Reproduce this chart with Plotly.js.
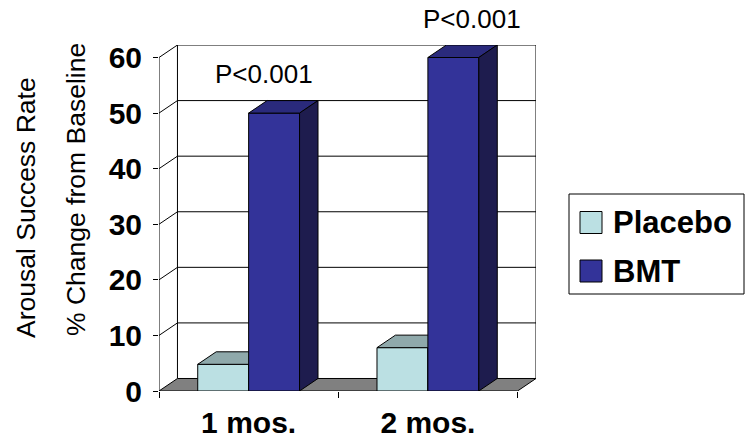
<!DOCTYPE html>
<html><head><meta charset="utf-8">
<script src="https://cdn.plot.ly/plotly-3.0.1.min.js"></script>
<style>html,body{margin:0;padding:0;background:#fff;}#chart{width:746px;height:441px;}</style>
</head><body><div id="chart"></div>
<script>
// ---- data ----
const categories = ['1 mos.', '2 mos.'];
const seriesNames = ['Placebo', 'BMT'];
const placeboValues = [4.8, 7.8];
const bmtValues = [50, 60];
const pValueLabels = ['P<0.001', 'P<0.001'];
const yTickValues = [0, 10, 20, 30, 40, 50, 60];
const yTitleLines = ['Arousal Success Rate', '% Change from Baseline'];

// ---- geometry / style ----
const FONT = 'Arial, "Liberation Sans", sans-serif';
const W = 746, H = 441;
const M = {l:159, r:210, t:45, b:50};
const PW = W - M.l - M.r, PH = H - M.t - M.b;
const X0 = -0.5, X1 = categories.length - 0.5;
const YMAX = yTickValues[yTickValues.length - 1];
const DX = 0.103, DY = 2.25;   // oblique depth offset
const BW = 0.284;              // bar width in category units
const XR = [X0, X1 + DX], YR = [0, YMAX + DY];
const px2paperX = px => (px - M.l) / PW;
const px2paperY = py => (H - M.b - py) / PH;
const d2paperX = x => (x - XR[0]) / (XR[1] - XR[0]);
const d2paperY = y => (y - YR[0]) / (YR[1] - YR[0]);

const colors = {
  Placebo: {front:'#BBE0E3', top:'#8FA9AB', side:'#6E8C8E'},
  BMT: {front:'#333399', top:'#2A2A7C', side:'#1E1C4E'}
};
const values = {Placebo: placeboValues, BMT: bmtValues};
const offsets = {Placebo: -BW, BMT: 0};

const traces = [];
const poly = (xs, ys, fill) => ({
  type:'scatter', mode:'lines', x:[...xs, xs[0]], y:[...ys, ys[0]],
  fill:'toself', fillcolor:fill, line:{color:'#000', width:1},
  hoverinfo:'skip', showlegend:false, cliponaxis:false
});

// walls & gridlines
const gx = [], gy = [];
yTickValues.forEach(t => { if (t > 0) { gx.push(X0, X0 + DX, X1 + DX, null); gy.push(t, t + DY, t + DY, null); } });
gx.push(X0 + DX, X0 + DX, null, X1 + DX, X1 + DX, null, X0, X0, null);
gy.push(DY, YMAX + DY, null, DY, YMAX + DY, null, 0, YMAX, null);
traces.push({type:'scatter', mode:'lines', x:gx, y:gy, line:{color:'#000', width:1},
  hoverinfo:'skip', showlegend:false, cliponaxis:false, connectgaps:false});

// floor
traces.push(poly([X0, X1, X1 + DX, X0 + DX], [0, 0, DY, DY], '#808080'));

// bars
categories.forEach((c, i) => {
  seriesNames.forEach(s => {
    const xl = i + offsets[s], xr = xl + BW, v = values[s][i];
    const col = colors[s];
    traces.push(poly([xl, xr, xr, xl], [0, 0, v, v], col.front));
    traces.push(poly([xl, xr, xr + DX, xl + DX], [v, v, v + DY, v + DY], col.top));
    traces.push(poly([xr, xr + DX, xr + DX, xr], [0, DY, v + DY, v], col.side));
  });
});

// annotations
const annotations = [];
annotations.push({xref:'paper', yref:'paper', x:px2paperX(26), y:px2paperY(208), text:yTitleLines[0],
  textangle:-90, showarrow:false, font:{family:FONT, size:26.5, color:'#000'}, xanchor:'center', yanchor:'middle'});
annotations.push({xref:'paper', yref:'paper', x:px2paperX(76), y:px2paperY(190), text:yTitleLines[1],
  textangle:-90, showarrow:false, font:{family:FONT, size:26.5, color:'#000'}, xanchor:'center', yanchor:'middle'});
const pLabelX = [0.088, 1.246];
pValueLabels.forEach((t, i) => {
  annotations.push({xref:'paper', yref:'paper', x:d2paperX(pLabelX[i]), y:d2paperY(bmtValues[i] + 7.0), text:t, showarrow:false,
    font:{family:FONT, size:26, color:'#000'}, xanchor:'center', yanchor:'middle'});
});

// legend (manual)
const shapes = [];
shapes.push({type:'rect', xref:'paper', yref:'paper', x0:px2paperX(569), x1:px2paperX(744), y0:px2paperY(294), y1:px2paperY(194),
  line:{color:'#000', width:1}, fillcolor:'#fff'});
const legY = [222.5, 271];
seriesNames.forEach((s, k) => {
  shapes.push({type:'rect', xref:'paper', yref:'paper', x0:px2paperX(580), x1:px2paperX(602),
    y0:px2paperY(legY[k] + 11), y1:px2paperY(legY[k] - 11), line:{color:'#000', width:1}, fillcolor:colors[s].front});
  annotations.push({xref:'paper', yref:'paper', x:px2paperX(611), y:px2paperY(legY[k]), text:s, showarrow:false,
    xanchor:'left', yanchor:'middle', font:{family:FONT, size:31, weight:'bold', color:'#000'}});
});

const layout = {
  width:W, height:H, margin:M, paper_bgcolor:'#fff', plot_bgcolor:'rgba(0,0,0,0)',
  showlegend:false,
  xaxis:{range:XR, showgrid:false, zeroline:false, showline:false,
    tickmode:'array', tickvals:categories.map((c, i) => i), ticktext:categories, ticks:'',
    tickfont:{family:FONT, size:30, weight:'bold', color:'#000'}, ticklabelstandoff:11,
    minor:{tickmode:'array', tickvals:categories.map((c, i) => i - 0.5).concat([X1]), ticks:'outside', ticklen:6, tickcolor:'#000', tickwidth:1, showgrid:false}},
  yaxis:{range:YR, showgrid:false, zeroline:false, showline:false,
    tickmode:'array', tickvals:yTickValues, ticks:'outside', ticklen:5, tickcolor:'#000', tickwidth:1,
    tickfont:{family:FONT, size:30, weight:'bold', color:'#000'}, ticklabelstandoff:5},
  annotations:annotations, shapes:shapes
};
Plotly.newPlot('chart', traces, layout, {staticPlot:true, displayModeBar:false});
</script>
</body></html>
